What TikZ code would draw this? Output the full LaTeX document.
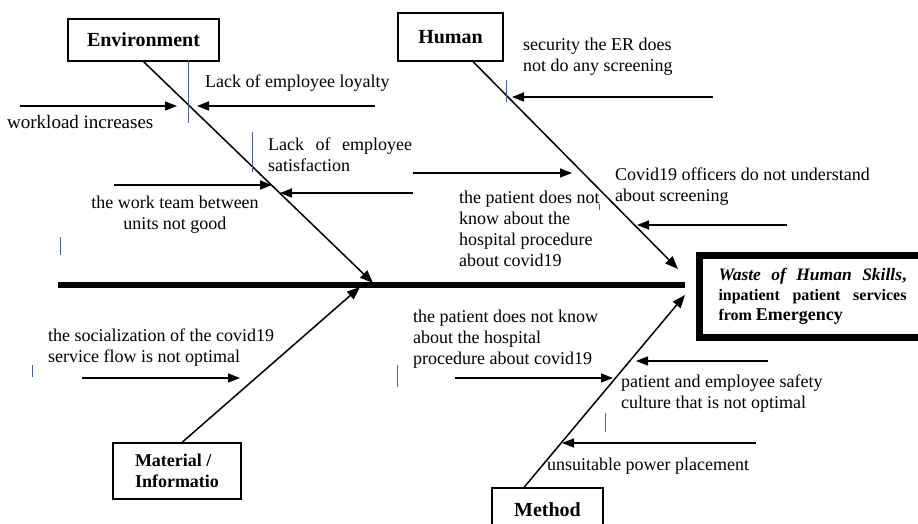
\documentclass[tikz,border=0pt]{standalone}
\usepackage{fontspec}
\setmainfont{Liberation Serif}
\usetikzlibrary{arrows.meta}
\definecolor{strayblue}{RGB}{70,95,160}

\begin{document}
\begin{tikzpicture}[x=1pt, y=-1pt,
	catbox/.style={draw, line width=1.2pt, font=\fontsize{20}{22}\selectfont\bfseries},
	lbl/.style={anchor=north west, inner sep=0pt, align=left, font=\fontsize{18}{21}\selectfont},
	spine/.style={line width=5.5pt},
	bone/.style={line width=1.5pt, -{Triangle[length=13pt,width=10pt]}},
	sub/.style={line width=1.5pt, -{Triangle[length=12pt,width=9pt]}},
	stray/.style={line width=0.8pt, strayblue}]
	\useasboundingbox (0,0) rectangle (918,524);
	\clip (0,0) rectangle (918,524);

	\node[catbox, minimum width=151pt, minimum height=42pt] (env) at (143.5,40) {Environment};
	\node[catbox, minimum width=105pt, minimum height=48pt] (human) at (450.5,37) {Human};
	\node[catbox, minimum width=128pt, minimum height=56pt, align=left, font=\fontsize{18}{21}\selectfont\bfseries] (mat) at (177,471) {Material /\\Informatio};
	\node[catbox, minimum width=111pt, minimum height=44pt] (method) at (547.5,510) {Method};

	\node[draw, line width=7pt, anchor=north west, inner xsep=19.5pt, inner ysep=0pt, minimum width=227pt, minimum height=82pt, align=left, font=\fontsize{16}{20}\selectfont\bfseries] (effect) at (695.5,251.5)
		{{\itshape\fontsize{17.5}{20}\selectfont\hbox to 188pt{Waste\hfill of\hfill Human\hfill Skills\upshape,}}\\
		\hbox to 188pt{inpatient\hfill patient\hfill services}\\
		from {\fontsize{18}{20}\selectfont Emergency}};

	\coordinate (spineL) at (58,285);
	\coordinate (spineR) at (685,285);
	\draw[spine] (spineL) -- (spineR);

	\coordinate (envT) at (373,283);
	\coordinate (humT) at (678,269);
	\coordinate (matT) at (360,287);
	\coordinate (metT) at (685,295);
	\draw[bone] (env.south) -- (envT);
	\draw[bone] ([xshift=22.5pt]human.south) -- (humT);
	\draw[bone] ([xshift=5pt]mat.north) -- (matT);
	\draw[bone] ([xshift=-23.5pt]method.north) -- (metT);

	\coordinate (wlA) at (20,106);   \coordinate (wlB) at (177,106);
	\coordinate (loyA) at (375,106); \coordinate (loyB) at (197,106);
	\coordinate (wtA) at (114,185);  \coordinate (wtB) at (272,185);
	\coordinate (satA) at (413,193); \coordinate (satB) at (280,193);
	\coordinate (ptA) at (413,173);  \coordinate (ptB) at (572,173);
	\coordinate (secA) at (713,97);  \coordinate (secB) at (512,97);
	\coordinate (covA) at (787,225); \coordinate (covB) at (637,225);
	\coordinate (socA) at (82,378);  \coordinate (socB) at (240,378);
	\coordinate (prA) at (455,378);  \coordinate (prB) at (613,378);
	\coordinate (safA) at (768,361); \coordinate (safB) at (636,361);
	\coordinate (powA) at (756,443); \coordinate (powB) at (562,443);
	\draw[sub] (wlA) -- (wlB);
	\draw[sub] (loyA) -- (loyB);
	\draw[sub] (wtA) -- (wtB);
	\draw[sub] (satA) -- (satB);
	\draw[sub] (ptA) -- (ptB);
	\draw[sub] (secA) -- (secB);
	\draw[sub] (covA) -- (covB);
	\draw[sub] (socA) -- (socB);
	\draw[sub] (prA) -- (prB);
	\draw[sub] (safA) -- (safB);
	\draw[sub] (powA) -- (powB);

	\node[lbl, font=\fontsize{19}{21}\selectfont] (workload) at (7,115.5) {workload increases};
	\node[lbl] (loyalty) at (205,74.5) {Lack of employee loyalty};
	\node[lbl] (satisf) at (268,137.5) {\hbox to 144pt{Lack\hfill of\hfill employee}\\satisfaction};
	\node[lbl, anchor=north, align=center] (workteam) at (175,195.5) {the work team between\\units not good};
	\node[lbl] (ptknow) at (459,190.5) {the patient does not\\know about the\\hospital procedure\\about covid19};
	\node[lbl] (security) at (523,37.5) {security the ER does\\not do any screening};
	\node[lbl] (officers) at (615,167.5) {Covid19 officers do not understand\\about screening};
	\node[lbl] (social) at (48,328.5) {the socialization of the covid19\\service flow is not optimal};
	\node[lbl] (procknow) at (413,309.5) {the patient does not know\\about the hospital\\procedure about covid19};
	\node[lbl] (safety) at (621,374.5) {patient and employee safety\\culture that is not optimal};
	\node[lbl] (power) at (547,457.5) {unsuitable power placement};

	\draw[stray] (188,60) -- (188,123);
	\draw[stray] (252,132) -- (252,172);
	\draw[stray] (60,237) -- (60,255);
	\draw[stray] (32,365) -- (32,377);
	\draw[stray] (397,365) -- (397,387);
	\draw[stray] (599,204) -- (599,210);
	\draw[stray] (506,80) -- (506,102);
	\draw[stray] (605,413) -- (605,432);
\end{tikzpicture}
\end{document}
